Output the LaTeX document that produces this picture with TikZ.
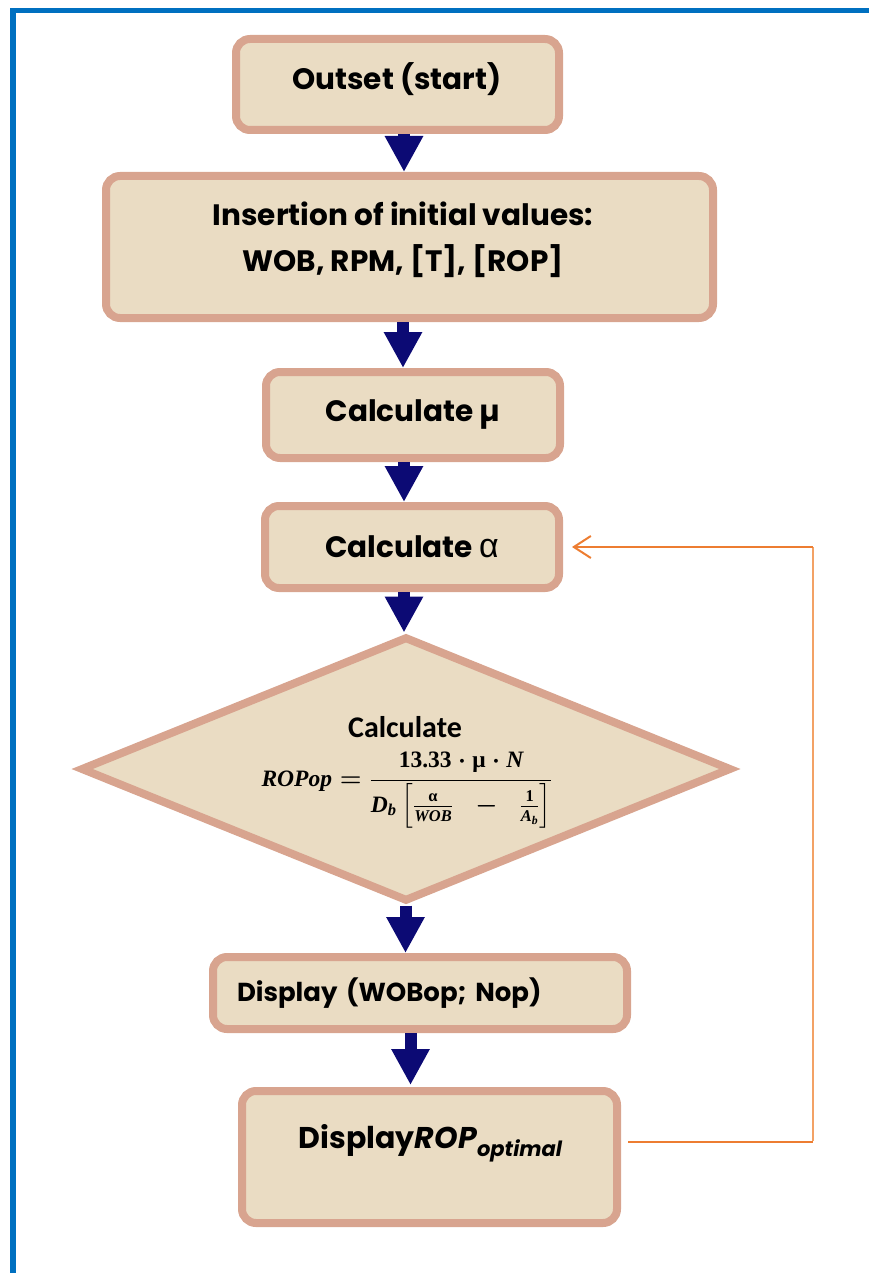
\documentclass[tikz,border=0pt]{standalone}
\usepackage{fontspec}
\usepackage{amsmath}
\setmainfont{Poppins}
\newfontfamily\calib{Carlito}
\newfontfamily\lserif{Liberation Serif}
\newfontfamily\lsans{Liberation Sans}
\usetikzlibrary{arrows.meta,shapes.geometric}
\definecolor{framecol}{HTML}{0070C0}
\definecolor{bordercol}{HTML}{D8A48F}
\definecolor{fillcol}{HTML}{EADCC3}
\definecolor{navy}{HTML}{0C0A74}
\definecolor{loopcol}{HTML}{ED7D31}
\definecolor{loopthin}{HTML}{F3A265}
\newcommand{\fbi}[1]{\text{\lserif\bfseries\itshape #1}}
\newcommand{\fbr}[1]{\text{\lserif\bfseries #1}}
\newsavebox{\formbox}
\begin{document}
\sbox{\formbox}{\fontsize{23.5}{28}\selectfont\boldmath$\displaystyle \fbi{ROPop}=\frac{\fbr{13.33}\cdot\fbr{μ}\cdot\fbi{N}}{\fbi{D}_{\fbi{b}}\left[\tfrac{\fbr{α}}{\fbi{WOB}}\;\;-\;\;\tfrac{\fbr{1}}{\fbi{A}_{\fbi{b}}}\right]}$}%
\begin{tikzpicture}[x=1pt,y=-1pt,
  box/.style={draw=bordercol, fill=fillcol, line width=8pt, rounded corners=14pt,
    align=center, inner sep=0pt, text=black},
  boxfont/.style={font=\fontsize{29.5}{46}\selectfont\bfseries},
  flowarrow/.style={draw=navy, line width=12pt, -{Triangle[width=36pt,length=36pt]}},
  loopline/.style={draw=loopcol},
]
\useasboundingbox (0,0) rectangle (869,1273);
% frame
\fill[framecol] (10,8) rectangle (869,13);
\fill[framecol] (10,8) rectangle (16,1273);

% nodes
\node[box, minimum width=323pt, minimum height=91pt] (start) at (397.5,84.5) {};
\node[boxfont] (startt) at (397,79) {Outset (start)};
\node[box, minimum width=607pt, minimum height=142pt] (ins) at (409.5,247) {};
\node[boxfont, align=center] (inst) at (403,240) {Insertion of initial values:\\WOB, RPM, [T], [ROP]};
\node[box, boxfont, minimum width=294pt, minimum height=86pt] (mu) at (413,415) {Calculate µ};
\node[box, boxfont, minimum width=294pt, minimum height=82pt] (al) at (412,547) {Calculate {\lsans\mdseries\fontsize{34}{40}\selectfont α}};
\node[box, diamond, rounded corners=0pt, shape aspect=2.5, minimum width=651pt, minimum height=265pt] (dec) at (406,769) {};
\node[font=\calib\bfseries\fontsize{30}{34}\selectfont, inner sep=0pt] (dect) at (405,727) {Calculate};
\node[anchor=north, inner sep=0pt] (form) at (407,752) {\usebox{\formbox}};
\node[box, font=\fontsize{26}{30}\selectfont\bfseries, minimum width=414pt, minimum height=72pt, inner xsep=24pt, text width=366pt, align=left] (disp) at (420,993) {Display (WOBop; Nop)};
\node[box, minimum width=375pt, minimum height=132pt] (rop) at (429.5,1157) {};
\node[font=\fontsize{30}{34}\selectfont\bfseries] (ropt) at (431,1143) {Display\textit{ROP}\textsubscript{\textit{optimal}}};

% arrows
\coordinate (c1) at (404,0);
\coordinate (c2) at (403,0);
\coordinate (c3) at (404,0);
\coordinate (c4) at (404,0);
\coordinate (c5) at (405.5,0);
\coordinate (c6) at (410.5,0);
\draw[flowarrow] (start.south -| c1) -- (ins.north -| c1);
\draw[flowarrow] (ins.south -| c2) -- (mu.north -| c2);
\draw[flowarrow] (mu.south -| c3) -- (al.north -| c3);
\draw[flowarrow] (al.south -| c4) -- (dec.north -| c4);
\draw[flowarrow] (dec.south -| c5) -- (disp.north -| c5);
\draw[flowarrow] (disp.south -| c6) -- ([yshift=2pt]rop.north -| c6);

% loop
\coordinate (lx) at (813,0);
\draw[loopline, line width=2.8pt, shorten <=7pt] ([yshift=1pt]rop.east |- ropt) -- ([yshift=1pt]lx |- ropt);
\draw[draw=loopthin, line width=1.4pt] ([yshift=2.4pt]lx |- ropt) -- (lx |- al);
\draw[loopline, line width=2pt, shorten >=9pt, -{Straight Barb[length=17pt,width=22pt]}] (lx |- al) -- (al.east);
\end{tikzpicture}
\end{document}
